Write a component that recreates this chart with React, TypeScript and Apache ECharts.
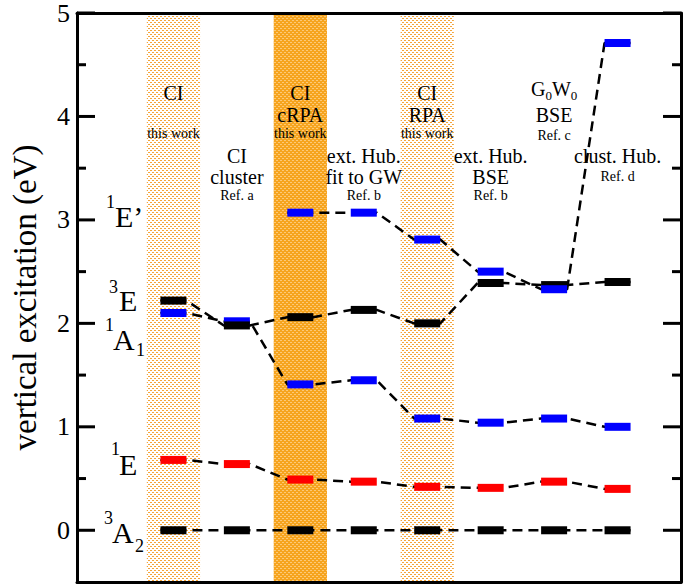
import React, { useEffect, useRef } from 'react';
import * as echarts from 'echarts';

// ---------- data ----------
const columns = [1, 2, 3, 4, 5, 6, 7, 8];
const columnTitles: string[][] = [
  ['CI'],
  ['CI', 'cluster'],
  ['CI', 'cRPA'],
  ['ext. Hub.', 'fit to GW'],
  ['CI', 'RPA'],
  ['ext. Hub.', 'BSE'],
  ['G0W0', 'BSE'],
  ['clust. Hub.'],
];
const columnRefs = ['this work', 'Ref. a', 'this work', 'Ref. b', 'this work', 'Ref. b', 'Ref. c', 'Ref. d'];

const state3A2 = [0, 0, 0, 0, 0, 0, 0, 0];
const state1E = [0.68, 0.64, 0.49, 0.47, 0.42, 0.41, 0.47, 0.4];
const state1A1 = [2.1, 2.02, 1.41, 1.45, 1.08, 1.04, 1.08, 1.0];
const state3E = [2.22, 1.98, 2.06, 2.13, 2.0, 2.39, 2.37, 2.4];
const state1Ep: (number | null)[] = [null, null, 3.07, 3.07, 2.81, 2.5, 2.33, 4.71];

const yTicksMajor = [0, 1, 2, 3, 4, 5];
const yTicksMinor = [0.5, 1.5, 2.5, 3.5, 4.5];
const lightBandColumns = [1, 5];
const solidBandColumns = [3];

// ---------- layout ----------
const X_MIN = -0.52;
const X_MAX = 9;
const Y_MIN = -0.5;
const Y_MAX = 5;
const BAR_W = 0.41;
const BAR_H = 8;
const BAND_HALF = 0.42;
const FONT = "'Liberation Serif', 'Times New Roman', serif";

function makePattern(bg: string, dot: string) {
  const c = document.createElement('canvas');
  c.width = 4;
  c.height = 4;
  const g = c.getContext('2d')!;
  g.fillStyle = bg;
  g.fillRect(0, 0, 4, 4);
  g.fillStyle = dot;
  g.fillRect(0, 0, 2, 1);
  g.fillRect(2, 2, 2, 1);
  return { image: c, imageWidth: 4, imageHeight: 4, repeat: 'repeat' };
}

function measure(text: string, size: number) {
  const c = document.createElement('canvas');
  const g = c.getContext('2d')!;
  g.font = `${size}px ${FONT}`;
  return g.measureText(text).width;
}

function txt(text: string, x: number, y: number, size: number, align = 'center') {
  return {
    type: 'text',
    x,
    y,
    silent: true,
    z: 20,
    style: {
      text,
      fill: '#000',
      font: `${size}px ${FONT}`,
      align,
      verticalAlign: 'middle',
      textAlign: align,
      textVerticalAlign: 'middle',
    },
  };
}

export default function App() {
  const ref = useRef<HTMLDivElement>(null);

  useEffect(() => {
    const el = ref.current!;
    const chart = echarts.init(el, null, { renderer: 'svg' });

    const lightFill = makePattern('#ffffff', '#f4a43a');
    const solidFill = makePattern('#f6a41e', '#fcc977');

    const bandData = [
      ...lightBandColumns.map((c) => [c, 0]),
      ...solidBandColumns.map((c) => [c, 1]),
    ];

    const lineSeries = (vals: (number | null)[]) => {
      const pts: number[][] = [];
      vals.forEach((v, i) => {
        if (v == null) return;
        const x = columns[i];
        pts.push([x - BAR_W / 2, v], [x + BAR_W / 2, v]);
      });
      return {
        type: 'line',
        data: pts,
        symbol: 'none',
        silent: true,
        z: 2,
        lineStyle: { color: '#000', width: 2.5, type: [10, 6] },
      };
    };

    const barSeries = (vals: (number | null)[], color: string, z: number) => ({
      type: 'custom',
      silent: true,
      z,
      data: vals.map((v, i) => (v == null ? null : [columns[i], v])).filter((d) => d),
      renderItem: (_p: any, api: any) => {
        const c = api.coord([api.value(0), api.value(1)]);
        const w = api.size([BAR_W, 0])[0];
        return {
          type: 'rect',
          shape: { x: c[0] - w / 2, y: c[1] - BAR_H / 2, width: w, height: BAR_H },
          style: { fill: color },
        };
      },
    });

    const tickData = [...yTicksMajor.map((v) => [v, 1]), ...yTicksMinor.map((v) => [v, 0])];

    const hiddenX = (position: string) => ({
      type: 'value',
      min: X_MIN,
      max: X_MAX,
      position,
      axisLine: { show: true, onZero: false, lineStyle: { color: '#000', width: 3 } },
      axisTick: { show: false },
      axisLabel: { show: false },
      splitLine: { show: false },
    });

    const option: any = {
      animation: false,
      backgroundColor: '#fff',
      textStyle: { fontFamily: FONT },
      grid: { left: 74, right: 4, top: 12, bottom: 3, containLabel: false },
      xAxis: [hiddenX('bottom'), hiddenX('top')],
      yAxis: [
        {
          type: 'value',
          min: Y_MIN,
          max: Y_MAX,
          interval: 0.5,
          position: 'left',
          name: 'vertical excitation (eV)',
          nameLocation: 'middle',
          nameGap: 36,
          nameTextStyle: { fontFamily: FONT, fontSize: 33, color: '#000' },
          axisLine: { show: true, onZero: false, lineStyle: { color: '#000', width: 3 } },
          axisTick: { show: false },
          axisLabel: {
            fontFamily: FONT,
            fontSize: 26,
            color: '#000',
            margin: 7,
            formatter: (v: number) => (Number.isInteger(v) ? String(v) : ''),
          },
          splitLine: { show: false },
        },
        {
          type: 'value',
          min: Y_MIN,
          max: Y_MAX,
          position: 'right',
          axisLine: { show: true, onZero: false, lineStyle: { color: '#000', width: 3 } },
          axisTick: { show: false },
          axisLabel: { show: false },
          splitLine: { show: false },
        },
      ],
      series: [
        {
          type: 'custom',
          silent: true,
          z: 0,
          data: bandData,
          renderItem: (_p: any, api: any) => {
            const x = api.value(0);
            const a = api.coord([x - BAND_HALF, Y_MAX]);
            const b = api.coord([x + BAND_HALF, Y_MIN]);
            return {
              type: 'rect',
              shape: { x: a[0], y: a[1], width: b[0] - a[0], height: b[1] - a[1] },
              style: { fill: api.value(1) === 1 ? solidFill : lightFill },
            };
          },
        },
        lineSeries(state3A2),
        lineSeries(state1E),
        lineSeries(state1A1),
        lineSeries(state3E),
        lineSeries(state1Ep),
        barSeries(state3A2, '#000000', 3),
        barSeries(state1E, '#ff0000', 3),
        barSeries(state1A1, '#0000ff', 3),
        barSeries(state3E, '#000000', 4),
        barSeries(state1Ep, '#0000ff', 5),
        {
          type: 'custom',
          silent: true,
          z: 10,
          data: tickData,
          renderItem: (_p: any, api: any) => {
            const v = api.value(0);
            const len = api.value(1) === 1 ? 18 : 9;
            const L = api.coord([X_MIN, v]);
            const R = api.coord([X_MAX, v]);
            return {
              type: 'group',
              children: [
                { type: 'line', shape: { x1: L[0], y1: L[1], x2: L[0] + len, y2: L[1] }, style: { stroke: '#000', lineWidth: 3 } },
                { type: 'line', shape: { x1: R[0] - len, y1: R[1], x2: R[0], y2: R[1] }, style: { stroke: '#000', lineWidth: 3 } },
              ],
            };
          },
        },
      ],
    };

    chart.setOption(option);

    // ---------- annotations ----------
    const px = (x: number) => chart.convertToPixel({ xAxisIndex: 0, yAxisIndex: 0 } as any, [x, 0])[0];
    const BIG = 20;
    const SMALL = 14;
    const SUBF = 13;
    const g: any[] = [];
    columns.forEach((col, i) => {
      const cx = px(col);
      const upper = i % 2 === 0;
      const titles = columnTitles[i];
      const rowY = upper ? [93, 115] : [156, 177];
      titles.forEach((t, k) => {
        if (t === 'G0W0') {
          const wG = measure('G', BIG);
          const wW = measure('W', BIG);
          const w0 = measure('0', SUBF);
          const total = wG + w0 + wW + w0;
          let x0 = cx - total / 2;
          const yMain = rowY[k] - 4;
          const ySub = rowY[k] + 2;
          g.push(txt('G', x0, yMain, BIG, 'left'));
          x0 += wG;
          g.push(txt('0', x0, ySub, SUBF, 'left'));
          x0 += w0;
          g.push(txt('W', x0, yMain, BIG, 'left'));
          x0 += wW;
          g.push(txt('0', x0, ySub, SUBF, 'left'));
        } else {
          g.push(txt(t, cx, rowY[k], BIG));
        }
      });
      let refY: number;
      if (upper) refY = titles[0] === 'G0W0' ? 135 : 133;
      else refY = titles.length === 1 ? 176 : 195;
      g.push(txt(columnRefs[i], cx, refY, SMALL));
    });

    // state labels
    const SUP = 18;
    const MAIN = 30;
    g.push(txt('1', 106, 202, SUP, 'left'));
    g.push(txt('E’', 115, 216, MAIN, 'left'));
    g.push(txt('3', 109, 287, SUP, 'left'));
    g.push(txt('E', 119, 300, MAIN, 'left'));
    g.push(txt('1', 105, 325, SUP, 'left'));
    g.push(txt('A', 113, 339, MAIN, 'left'));
    g.push(txt('1', 136, 350, SUP, 'left'));
    g.push(txt('1', 111, 449, SUP, 'left'));
    g.push(txt('E', 119, 464, MAIN, 'left'));
    g.push(txt('3', 104, 518, SUP, 'left'));
    g.push(txt('A', 112, 532, MAIN, 'left'));
    g.push(txt('2', 135, 546, SUP, 'left'));

    chart.setOption({ graphic: { elements: g } });

    return () => chart.dispose();
  }, []);

  return <div ref={ref} style={{ position: 'fixed', left: 0, top: 0, width: 685, height: 585 }} />;
}
